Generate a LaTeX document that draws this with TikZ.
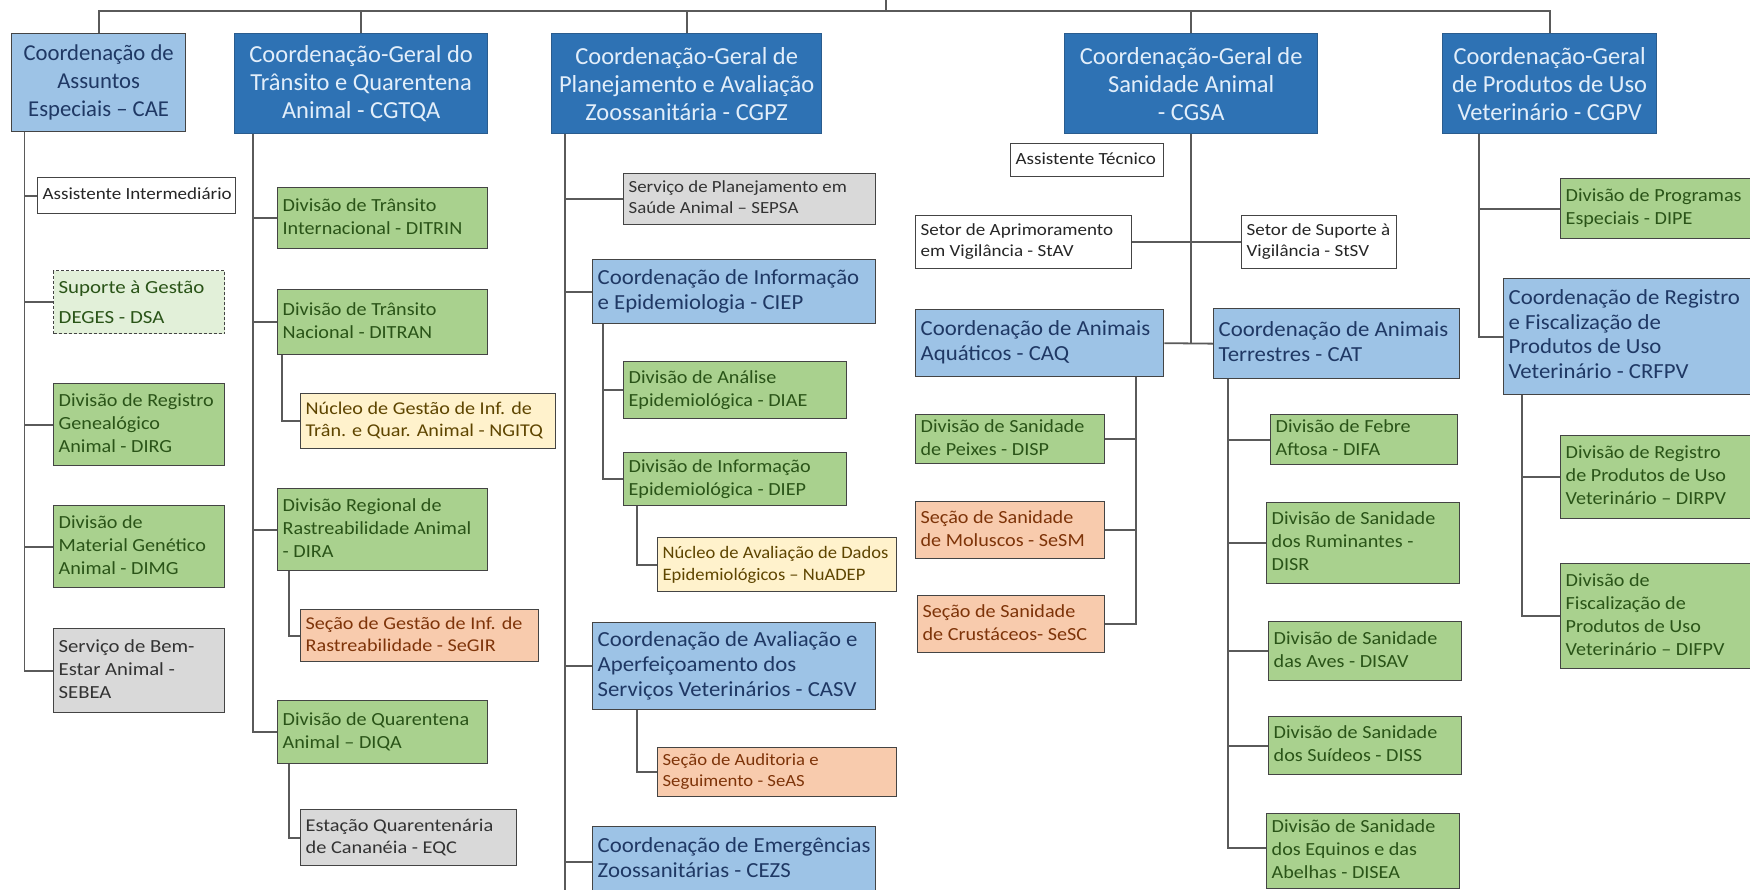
\documentclass[tikz,border=0pt]{standalone}
\usepackage{fontspec}
\usepackage{graphicx}
\setmainfont{Carlito}
\definecolor{dkblue}{HTML}{2E72B4}
\definecolor{dkborder}{HTML}{2A5C8E}
\definecolor{dktext}{HTML}{E2EEFA}
\definecolor{ltblue}{HTML}{9DC3E6}
\definecolor{lttext}{HTML}{1F3864}
\definecolor{grfill}{HTML}{A9D18E}
\definecolor{grtext}{HTML}{2A5418}
\definecolor{orfill}{HTML}{F8CBAD}
\definecolor{ortext}{HTML}{7E3409}
\definecolor{yefill}{HTML}{FFF2CC}
\definecolor{yetext}{HTML}{5E4500}
\definecolor{gyfill}{HTML}{D9D9D9}
\definecolor{gytext}{HTML}{333333}
\definecolor{pgfill}{HTML}{E2F0D9}
\definecolor{bordc}{HTML}{444444}
\definecolor{conncol}{HTML}{5A5A5A}
\def\bxs{1}
\newcommand{\bt}[2]{\makebox[#1][l]{\hspace{5pt}\scalebox{\bxs}[1]{\begin{tabular}{@{}l@{}}#2\end{tabular}}}}
\tikzset{
  base/.style={draw=bordc, line width=1.3pt, inner sep=0pt, anchor=north west},
  darkbox/.style={base, fill=dkblue, draw=dkborder, text=dktext, align=center, font=\fontsize{24.5}{28}\selectfont},
  ltbox/.style={base, fill=ltblue, text=lttext, font=\fontsize{21.5}{25}\selectfont\def\bxs{1.06}},
  grbox/.style={base, fill=grfill, text=grtext, font=\fontsize{18.5}{23}\selectfont\def\bxs{1.09}},
  orbox/.style={base, fill=orfill, text=ortext, font=\fontsize{18}{22}\selectfont\def\bxs{1.12}},
  yebox/.style={base, fill=yefill, text=yetext, font=\fontsize{17.5}{22}\selectfont\def\bxs{1.06}},
  gybox/.style={base, fill=gyfill, text=gytext, font=\fontsize{18}{22}\selectfont\def\bxs{1.13}},
  whbox/.style={base, fill=white, text=black!85, font=\fontsize{17}{21}\selectfont\def\bxs{1.12}},
  pgbox/.style={base, fill=pgfill, text=grtext, dash pattern=on 3pt off 2pt, font=\fontsize{18.5}{30}\selectfont\def\bxs{1.13}},
  conn/.style={draw=conncol, line width=1.8pt}
}
\begin{document}
\begin{tikzpicture}[x=1pt,y=-1pt]
\useasboundingbox (0,0) rectangle (1750,889);
\clip (0,0) rectangle (1750,889);
\fill[white] (0,0) rectangle (1750,889);
% ---- top level
\node[ltbox, align=center, minimum width=174pt, minimum height=98pt, font=\fontsize{22.7}{28}\selectfont] (CAE) at (11,33) {Coordenação de\\Assuntos\\Especiais – CAE};
\node[darkbox, minimum width=253pt, minimum height=100pt] (CGTQA) at (234,33) {Coordenação-Geral do\\Trânsito e Quarentena\\Animal - CGTQA};
\node[darkbox, minimum width=270pt, minimum height=100pt] (CGPZ) at (551,33) {Coordenação-Geral de\\Planejamento e Avaliação\\Zoossanitária - CGPZ};
\node[darkbox, minimum width=253pt, minimum height=100pt] (CGSA) at (1064,33) {Coordenação-Geral de\\Sanidade Animal\\- CGSA};
\node[darkbox, minimum width=214pt, minimum height=100pt] (CGPV) at (1442,33) {Coordenação-Geral\\de Produtos de Uso\\Veterinário - CGPV};
% ---- CAE column
\node[whbox, minimum height=36pt] (AINT) at (37,177) {\bt{198pt}{Assistente Intermediário}};
\node[pgbox, minimum height=63pt] (SUP) at (53,270) {\bt{171pt}{Suporte à Gestão\\DEGES - DSA}};
\node[grbox, minimum height=82pt] (DIRG) at (53,383) {\bt{171pt}{Divisão de Registro\\Genealógico\\Animal - DIRG}};
\node[grbox, minimum height=82pt] (DIMG) at (53,505) {\bt{171pt}{Divisão de\\Material Genético\\Animal - DIMG}};
\node[gybox, font=\fontsize{18.5}{23}\selectfont\def\bxs{1.12}, minimum height=84pt] (SEBEA) at (53,628) {\bt{171pt}{Serviço de Bem-\\Estar Animal -\\SEBEA}};
% ---- CGTQA column
\node[grbox, minimum height=61pt] (DITRIN) at (277,187) {\bt{210pt}{Divisão de Trânsito\\Internacional - DITRIN}};
\node[grbox, minimum height=65pt] (DITRAN) at (277,289) {\bt{210pt}{Divisão de Trânsito\\Nacional - DITRAN}};
\node[yebox, font=\fontsize{18}{22}\selectfont\def\bxs{1.12}, minimum height=55pt] (NGITQ) at (300,393) {\bt{255pt}{Núcleo de Gestão de Inf. de\\Trân. e Quar. Animal - NGITQ}};
\node[grbox, minimum height=82pt] (DIRA) at (277,488) {\bt{210pt}{Divisão Regional de\\Rastreabilidade Animal\\- DIRA}};
\node[orbox, minimum height=52pt] (SEGIR) at (300,609) {\bt{238pt}{Seção de Gestão de Inf. de\\Rastreabilidade - SeGIR}};
\node[grbox, minimum height=63pt] (DIQA) at (277,700) {\bt{210pt}{Divisão de Quarentena\\Animal – DIQA}};
\node[gybox, minimum height=56pt] (EQC) at (300,809) {\bt{216pt}{Estação Quarentenária\\de Cananéia - EQC}};
% ---- CGPZ column
\node[gybox, font=\fontsize{17}{21}\selectfont\def\bxs{1.11}, minimum height=51pt] (SEPSA) at (623,173) {\bt{252pt}{Serviço de Planejamento em\\Saúde Animal – SEPSA}};
\node[ltbox, minimum height=64pt] (CIEP) at (592,259) {\bt{283pt}{Coordenação de Informação\\e Epidemiologia - CIEP}};
\node[grbox, minimum height=57pt] (DIAE) at (623,361) {\bt{223pt}{Divisão de Análise\\Epidemiológica - DIAE}};
\node[grbox, minimum height=53pt] (DIEP) at (623,452) {\bt{223pt}{Divisão de Informação\\Epidemiológica - DIEP}};
\node[yebox, minimum height=54pt] (NUADEP) at (657,537) {\bt{239pt}{Núcleo de Avaliação de Dados\\Epidemiológicos – NuADEP}};
\node[ltbox, minimum height=87pt] (CASV) at (592,622) {\bt{283pt}{Coordenação de Avaliação e\\Aperfeiçoamento dos\\Serviços Veterinários - CASV}};
\node[orbox, font=\fontsize{17}{21}\selectfont\def\bxs{1.1}, minimum height=49pt] (SEAS) at (657,747) {\bt{239pt}{Seção de Auditoria e\\Seguimento - SeAS}};
\node[ltbox, minimum height=66pt] (CEZS) at (592,826) {\bt{283pt}{Coordenação de Emergências\\Zoossanitárias - CEZS}};
% ---- CGSA column
\node[whbox, minimum height=33pt] (ATEC) at (1010,143) {\bt{153pt}{Assistente Técnico}};
\node[whbox, minimum height=53pt] (STAV) at (915,215) {\bt{216pt}{Setor de Aprimoramento\\em Vigilância - StAV}};
\node[whbox, minimum height=53pt] (STSV) at (1241,215) {\bt{155pt}{Setor de Suporte à\\Vigilância - StSV}};
\node[ltbox, minimum height=67pt] (CAQ) at (915,309) {\bt{248pt}{Coordenação de Animais\\Aquáticos - CAQ}};
\node[ltbox, minimum height=70pt] (CAT) at (1213,308) {\bt{246pt}{Coordenação de Animais\\Terrestres - CAT}};
\node[grbox, minimum height=49pt] (DISP) at (915,414) {\bt{189pt}{Divisão de Sanidade\\de Peixes - DISP}};
\node[orbox, font=\fontsize{18.5}{23}\selectfont\def\bxs{1.09}, minimum height=57pt] (SESM) at (915,501) {\bt{189pt}{Seção de Sanidade\\de Moluscos - SeSM}};
\node[orbox, font=\fontsize{18.5}{23}\selectfont\def\bxs{1.09}, minimum height=57pt] (SESC) at (917,595) {\bt{187pt}{Seção de Sanidade\\de Crustáceos- SeSC}};
\node[grbox, minimum height=50pt] (DIFA) at (1270,414) {\bt{187pt}{Divisão de Febre\\Aftosa - DIFA}};
\node[grbox, minimum height=81pt] (DISR) at (1266,502) {\bt{193pt}{Divisão de Sanidade\\dos Ruminantes -\\DISR}};
\node[grbox, minimum height=59pt] (DISAV) at (1268,621) {\bt{193pt}{Divisão de Sanidade\\das Aves - DISAV}};
\node[grbox, minimum height=58pt] (DISS) at (1268,716) {\bt{193pt}{Divisão de Sanidade\\dos Suídeos - DISS}};
\node[grbox, minimum height=75pt] (DISEA) at (1266,813) {\bt{193pt}{Divisão de Sanidade\\dos Equinos e das\\Abelhas - DISEA}};
% ---- CGPV column
\node[grbox, minimum height=60pt] (DIPE) at (1560,178) {\bt{210pt}{Divisão de Programas\\Especiais - DIPE}};
\node[ltbox, font=\fontsize{21.5}{24.5}\selectfont\def\bxs{1.06}, minimum height=116pt] (CRFPV) at (1503,278) {\bt{267pt}{Coordenação de Registro\\e Fiscalização de\\Produtos de Uso\\Veterinário - CRFPV}};
\node[grbox, minimum height=83pt] (DIRPV) at (1560,435) {\bt{210pt}{Divisão de Registro\\de Produtos de Uso\\Veterinário – DIRPV}};
\node[grbox, minimum height=105pt] (DIFPV) at (1560,563) {\bt{210pt}{Divisão de\\Fiscalização de\\Produtos de Uso\\Veterinário – DIFPV}};
% ---- connectors: top bar
\coordinate (topbar) at (0,11);
\coordinate (root) at (886,-10);
\draw[conn] (root) -- (root |- topbar);
\draw[conn] (CAE.north) |- (CGPV.north |- topbar) -- (CGPV.north);
\foreach \c in {CGTQA,CGPZ,CGSA} \draw[conn] (\c.north) -- (\c.north |- topbar);
% CAE
\coordinate (caeT) at (24.5,0);
\draw[conn] (caeT |- CAE.south) |- (SEBEA.west);
\foreach \c in {AINT,SUP,DIRG,DIMG} \draw[conn] (caeT |- \c.west) -- (\c.west);
% CGTQA
\coordinate (cgtT) at (253,0);
\draw[conn] (cgtT |- CGTQA.south) |- (DIQA.west);
\foreach \c in {DITRIN,DITRAN,DIRA} \draw[conn] (cgtT |- \c.west) -- (\c.west);
\coordinate (ditranT) at (282,0);
\draw[conn] (ditranT |- DITRAN.south) |- (NGITQ.west);
\coordinate (diraT) at (289,0);
\draw[conn] (diraT |- DIRA.south) |- (SEGIR.west);
\draw[conn] (diraT |- DIQA.south) |- (EQC.west);
% CGPZ
\coordinate (cgpzT) at (565,0);
\coordinate (cgpzEnd) at (565,900);
\draw[conn] (cgpzT |- CGPZ.south) -- (cgpzEnd);
\foreach \c in {SEPSA,CIEP,CASV} \draw[conn] (cgpzT |- \c.west) -- (\c.west);
\coordinate (cezsIn) at (0,862);
\draw[conn] (cgpzT |- cezsIn) -- (CEZS.west |- cezsIn);
\coordinate (ciepT) at (603,0);
\draw[conn] (ciepT |- CIEP.south) |- (DIEP.west);
\draw[conn] (ciepT |- DIAE.west) -- (DIAE.west);
\coordinate (subT) at (637,0);
\draw[conn] (subT |- DIEP.south) |- (NUADEP.west);
\draw[conn] (subT |- CASV.south) |- (SEAS.west);
% CGSA
\draw[conn] (CGSA.south) -- (CGSA.south |- CAQ.east);
\draw[conn] (CAQ.east) -- (CAT.west);
\draw[conn] (STAV.east) -- (STSV.west);
\coordinate (caqT) at (1136,0);
\draw[conn] (caqT |- CAQ.south) |- (SESC.east);
\foreach \c in {DISP,SESM} \draw[conn] (caqT |- \c.east) -- (\c.east);
\coordinate (catT) at (1228,0);
\coordinate (diseaIn) at (0,848);
\draw[conn] (catT |- CAT.south) |- (DISEA.west |- diseaIn);
\foreach \c in {DIFA,DISR,DISAV,DISS} \draw[conn] (catT |- \c.west) -- (\c.west);
% CGPV
\coordinate (cgpvT) at (1479,0);
\draw[conn] (cgpvT |- CGPV.south) |- (CRFPV.west);
\draw[conn] (cgpvT |- DIPE.west) -- (DIPE.west);
\coordinate (crfT) at (1522,0);
\draw[conn] (crfT |- CRFPV.south) |- (DIFPV.west);
\draw[conn] (crfT |- DIRPV.west) -- (DIRPV.west);
\end{tikzpicture}
\end{document}
